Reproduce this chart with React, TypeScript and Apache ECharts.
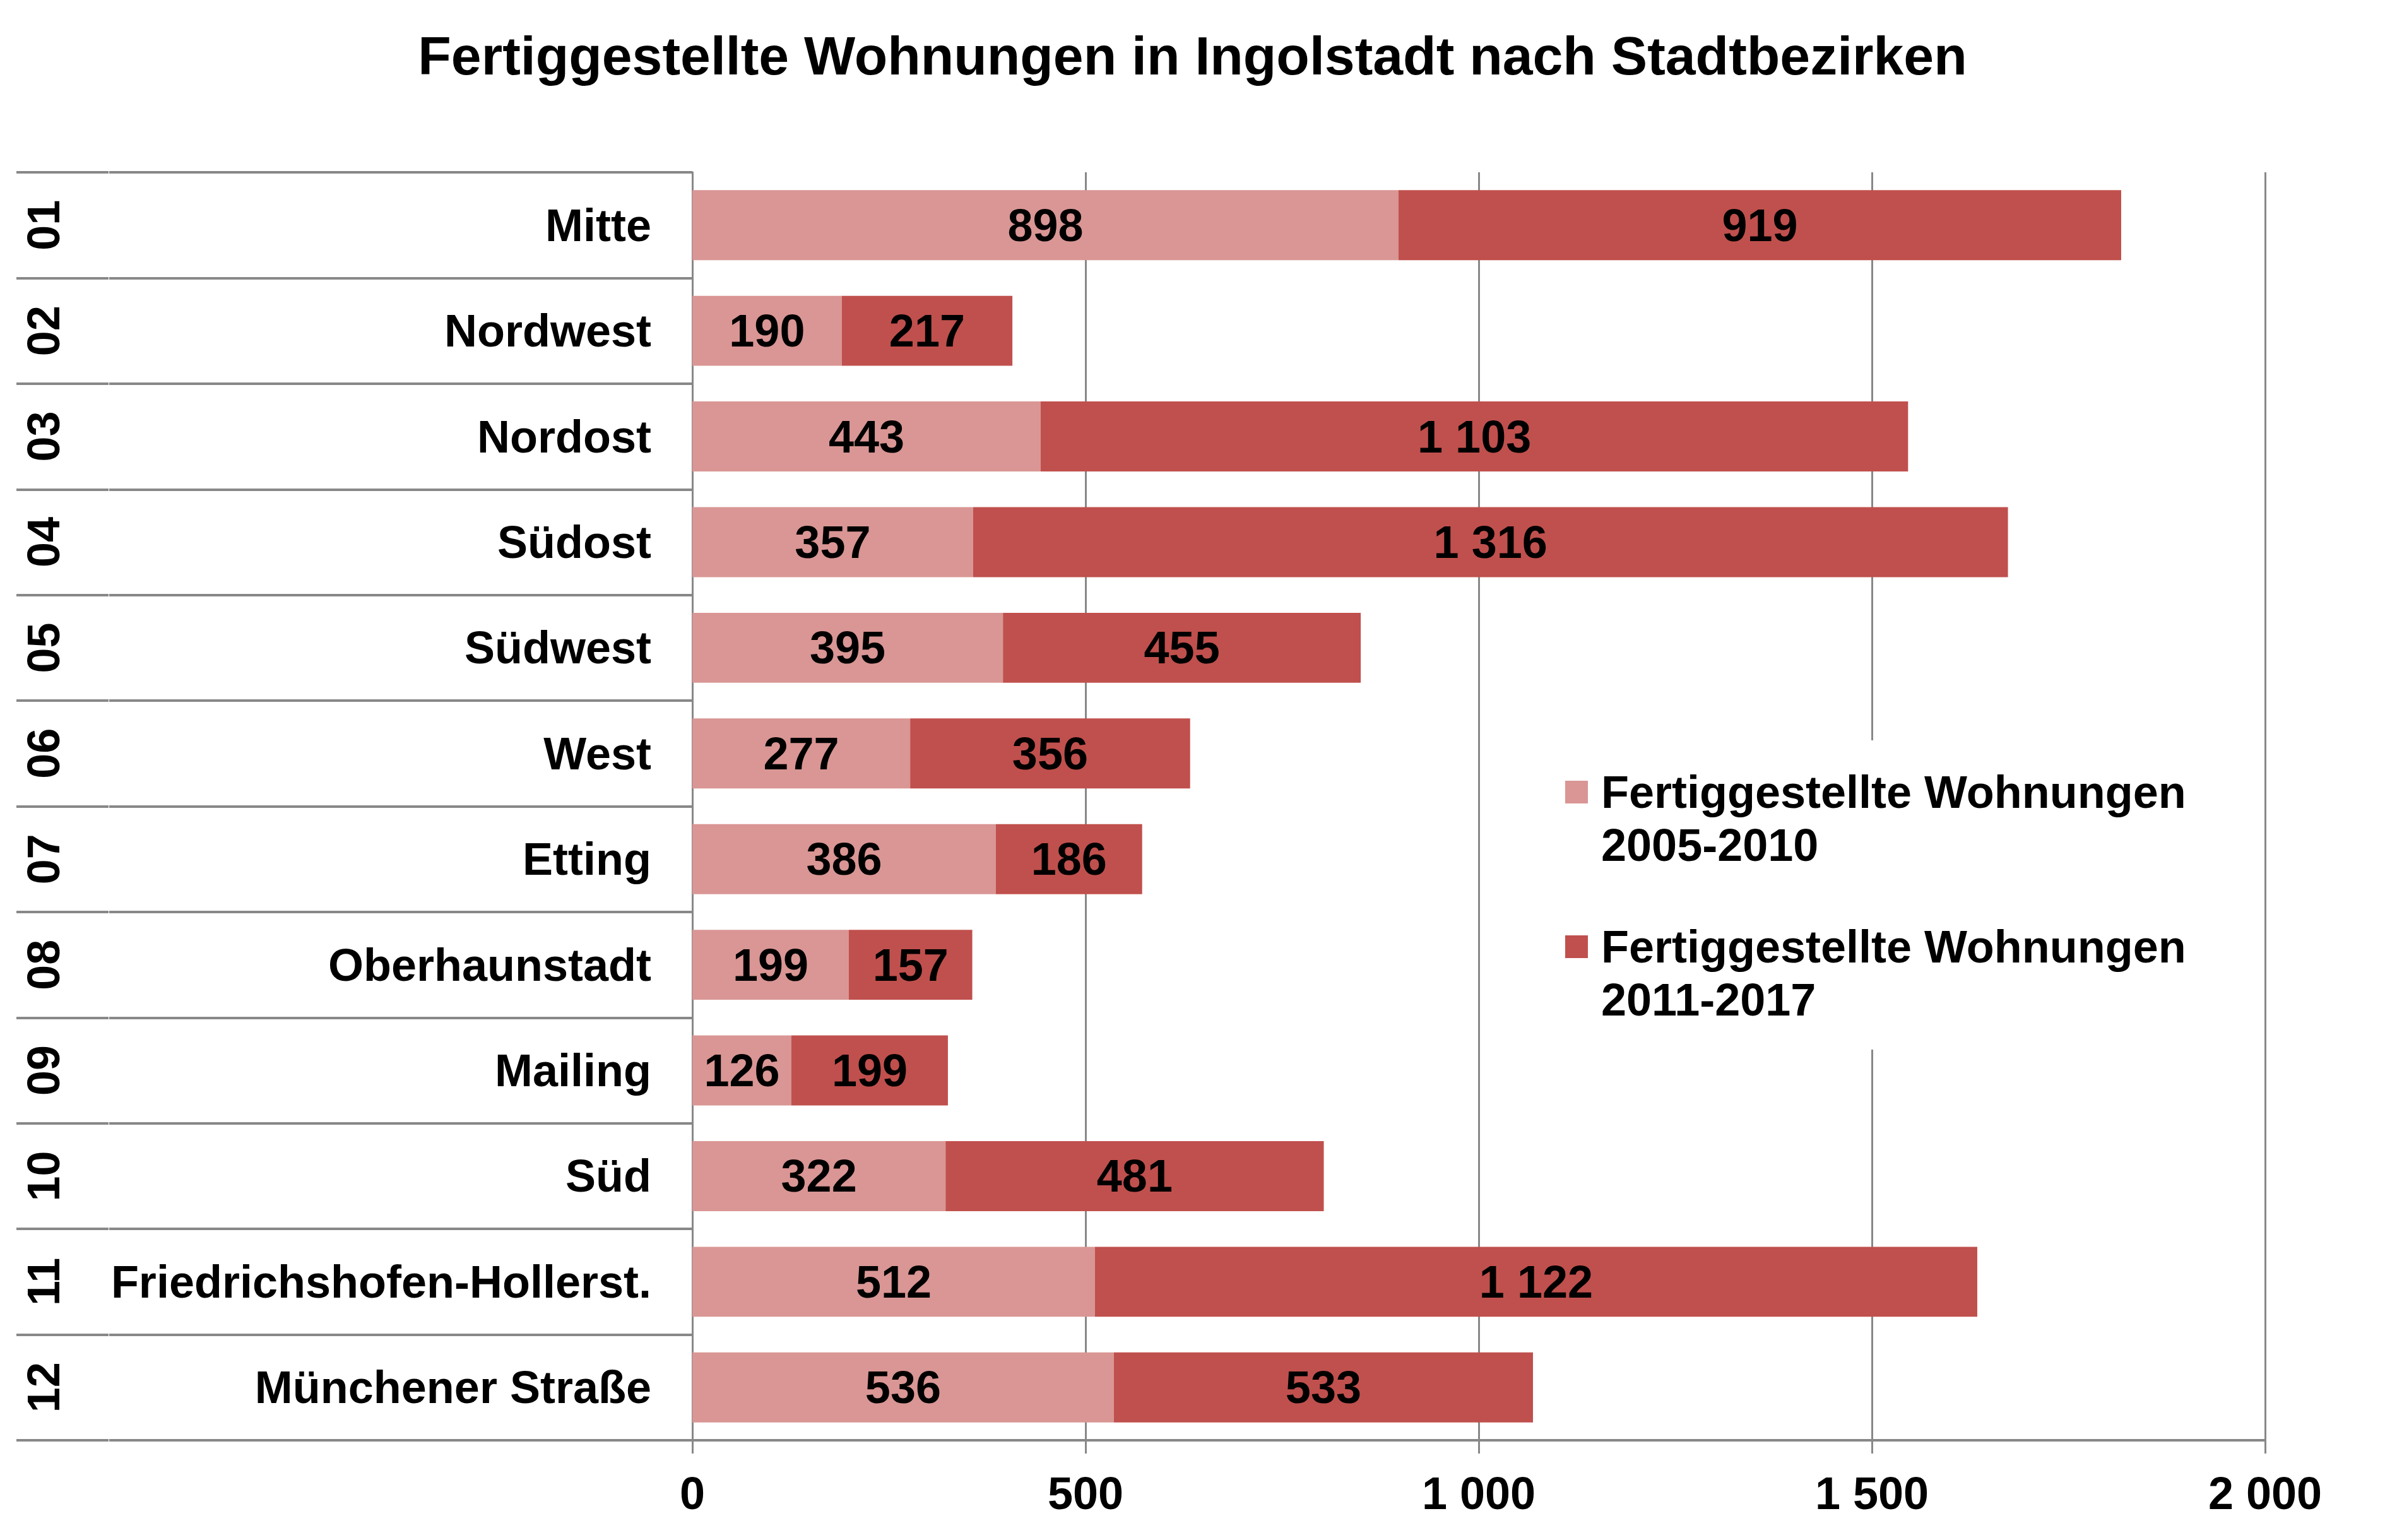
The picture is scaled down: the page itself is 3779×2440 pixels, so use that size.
import React, { useEffect, useRef } from "react";
import * as echarts from "echarts";

// ---------- data ----------
const chartTitle = "Fertiggestellte Wohnungen in Ingolstadt nach Stadtbezirken";
const districtCodes = ["01", "02", "03", "04", "05", "06", "07", "08", "09", "10", "11", "12"];
const districtNames = [
  "Mitte",
  "Nordwest",
  "Nordost",
  "Südost",
  "Südwest",
  "West",
  "Etting",
  "Oberhaunstadt",
  "Mailing",
  "Süd",
  "Friedrichshofen-Hollerst.",
  "Münchener Straße",
];
const seriesNames = [
  "Fertiggestellte Wohnungen 2005-2010",
  "Fertiggestellte Wohnungen 2011-2017",
];
const values2005to2010 = [898, 190, 443, 357, 395, 277, 386, 199, 126, 322, 512, 536];
const values2011to2017 = [919, 217, 1103, 1316, 455, 356, 186, 157, 199, 481, 1122, 533];
const axisMin = 0;
const axisMax = 2000;
const axisStep = 500;

// ---------- styling ----------
const FONT = '"Liberation Sans", Arial, Helvetica, sans-serif';
const GRAY = "#888888";
const COLOR_LIGHT = "#D99694";
const COLOR_DARK = "#C0504D";

const fmt = (v: number) => String(v).replace(/\B(?=(\d{3})+(?!\d))/g, " ");

const PLOT_LEFT = 1097;
const PLOT_RIGHT = 3589;
const PLOT_TOP = 273;
const PLOT_BOTTOM = 2282;
const TABLE_LEFT = 26;
const TABLE_SPLIT = 172;

export default function App() {
  const ref = useRef<HTMLDivElement | null>(null);

  useEffect(() => {
    if (!ref.current) return;
    const chart = echarts.init(ref.current, undefined, { renderer: "svg" });

    const labelText = {
      fontFamily: FONT,
      fontSize: 72,
      fontWeight: "bold" as const,
      color: "#000",
    };

    const separatorAxis = (gridIndex: number) => ({
      type: "category",
      gridIndex,
      data: districtCodes,
      inverse: true,
      axisLine: { show: false },
      axisTick: { show: false },
      axisLabel: { show: false },
      splitLine: { show: true, interval: 0, lineStyle: { color: GRAY, width: 4 } },
    });

    const option: any = {
      animation: false,
      backgroundColor: "#ffffff",
      textStyle: { fontFamily: FONT },
      title: {
        text: chartTitle,
        left: "center",
        top: 45,
        padding: 0,
        textStyle: {
          fontFamily: FONT,
          fontSize: 86,
          fontWeight: "bold",
          color: "#000",
          lineHeight: 86,
        },
      },
      grid: [
        {
          left: PLOT_LEFT,
          top: PLOT_TOP,
          width: PLOT_RIGHT - PLOT_LEFT,
          height: PLOT_BOTTOM - PLOT_TOP,
          containLabel: false,
          outerBoundsMode: "none",
        },
        {
          left: TABLE_LEFT,
          top: PLOT_TOP,
          width: TABLE_SPLIT - TABLE_LEFT,
          height: PLOT_BOTTOM - PLOT_TOP,
          containLabel: false,
          outerBoundsMode: "none",
        },
        {
          left: TABLE_SPLIT + 1,
          top: PLOT_TOP,
          width: PLOT_LEFT - TABLE_SPLIT - 1,
          height: PLOT_BOTTOM - PLOT_TOP,
          containLabel: false,
          outerBoundsMode: "none",
        },
      ],
      xAxis: [
        {
          type: "value",
          gridIndex: 0,
          min: axisMin,
          max: axisMax,
          interval: axisStep,
          axisLine: { show: true, onZero: false, lineStyle: { color: GRAY, width: 4 } },
          axisTick: { show: true, inside: false, length: 21, lineStyle: { color: GRAY, width: 3 } },
          splitLine: { show: true, lineStyle: { color: GRAY, width: 3 } },
          axisLabel: {
            ...labelText,
            margin: 48,
            lineHeight: 72,
            formatter: (v: number) => fmt(v),
          },
        },
        { type: "value", gridIndex: 1, show: false, min: 0, max: 1 },
        { type: "value", gridIndex: 2, show: false, min: 0, max: 1 },
      ],
      yAxis: [
        {
          type: "category",
          gridIndex: 0,
          position: "left",
          data: districtNames,
          inverse: true,
          axisLine: { show: true, lineStyle: { color: GRAY, width: 3 } },
          axisTick: { show: false },
          splitLine: { show: false },
          axisLabel: { ...labelText, interval: 0, margin: 65 },
        },
        {
          type: "category",
          gridIndex: 0,
          position: "left",
          data: districtCodes,
          inverse: true,
          axisLine: { show: false },
          axisTick: { show: false },
          splitLine: { show: false },
          axisLabel: {
            ...labelText,
            interval: 0,
            margin: PLOT_LEFT - 69,
            rotate: 90,
            align: "center",
            verticalAlign: "middle",
          },
        },
        separatorAxis(1),
        separatorAxis(2),
      ],
      legend: {
        orient: "vertical",
        left: 2440,
        top: 1173,
        padding: [40, 40, 37, 40],
        itemGap: 77,
        itemWidth: 36,
        itemHeight: 168,
        icon: "path://M0,0L36,0M0,24L36,24L36,60L0,60ZM0,168L36,168",
        itemStyle: { borderWidth: 0 },
        backgroundColor: "#ffffff",
        selectedMode: false,
        data: seriesNames,
        formatter: (name: string) => name.replace(/ (\d{4}-\d{4})$/, "\n$1"),
        textStyle: {
          ...labelText,
          lineHeight: 84,
          padding: [0, 0, 0, 16],
        },
      },
      series: [
        {
          name: seriesNames[0],
          type: "bar",
          stack: "total",
          xAxisIndex: 0,
          yAxisIndex: 0,
          data: values2005to2010,
          barCategoryGap: "33.7%",
          itemStyle: { color: COLOR_LIGHT },
          label: {
            show: true,
            position: "inside",
            ...labelText,
            formatter: (p: any) => fmt(p.value),
          },
        },
        {
          name: seriesNames[1],
          type: "bar",
          stack: "total",
          xAxisIndex: 0,
          yAxisIndex: 0,
          data: values2011to2017,
          barCategoryGap: "33.7%",
          itemStyle: { color: COLOR_DARK },
          label: {
            show: true,
            position: "inside",
            ...labelText,
            formatter: (p: any) => fmt(p.value),
          },
        },
      ],
    };

    chart.setOption(option);
    return () => {
      chart.dispose();
    };
  }, []);

  return (
    <div
      ref={ref}
      style={{
        position: "fixed",
        left: 0,
        top: 0,
        width: 3779,
        height: 2440,
        background: "#fff",
      }}
    />
  );
}
